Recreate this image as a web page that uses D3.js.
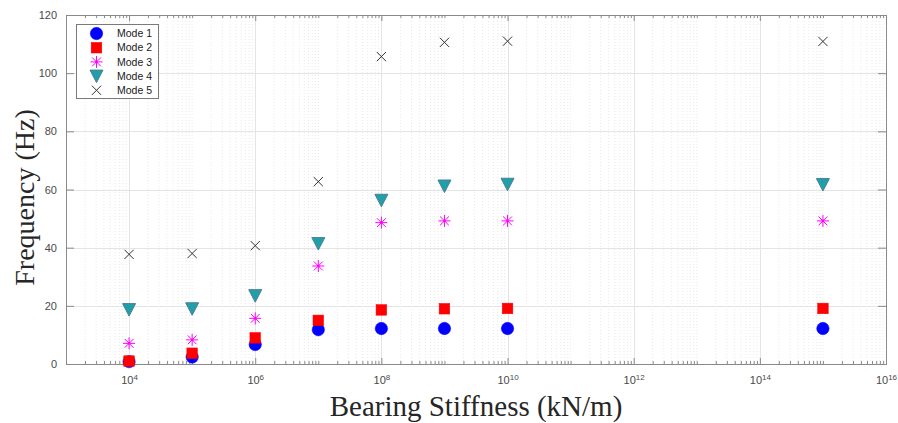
<!DOCTYPE html>
<html>
<head>
<meta charset="utf-8">
<script src="https://cdn.jsdelivr.net/npm/d3@7/dist/d3.min.js"></script>
<style>
  html, body { margin: 0; padding: 0; background: #fff; }
  svg { display: block; }
</style>
</head>
<body>
<svg id="chart" width="898" height="423"></svg>
<script>
// Natural frequencies of the first five modes vs. bearing stiffness
const stiffness = [1e4, 1e5, 1e6, 1e7, 1e8, 1e9, 1e10, 1e15];
const mode1 = [0.8, 2.4, 6.7, 11.8, 12.2, 12.2, 12.2, 12.2];
const mode2 = [1.0, 3.7, 9.0, 15.0, 18.6, 19.0, 19.1, 19.1];
const mode3 = [7.1, 8.3, 15.7, 33.7, 48.6, 49.2, 49.2, 49.2];
const mode4 = [18.7, 19.0, 23.5, 41.4, 56.3, 61.2, 61.8, 61.7];
const mode5 = [37.7, 38.0, 40.7, 62.7, 105.7, 110.6, 111.0, 110.9];
const seriesNames = ["Mode 1", "Mode 2", "Mode 3", "Mode 4", "Mode 5"];
const yTicks = [0, 20, 40, 60, 80, 100, 120];
const xLabelExponents = [4, 6, 8, 10, 12, 14, 16];

const svg = d3.select("#chart");
const L = 66, R = 886, T = 15, B = 364;

const x = d3.scaleLog().domain([1e3, 1e16]).range([L, R]);
const y = d3.scaleLinear().domain([0, 120]).range([B, T]);

// labelled decades and the sub-decade positions between them
const majorX = xLabelExponents.map(e => Math.pow(10, e));
const minorX = [];
for (let e = 3; e < 16; e++) {
  for (let k = 1; k <= 9; k++) {
    const v = k * Math.pow(10, e);
    if (k === 1 && e % 2 === 0) continue;
    if (v > 1e3) minorX.push(v);
  }
}

const g = svg.append("g");

// minor vertical grid (dotted)
g.append("g").selectAll("line").data(minorX).join("line")
  .attr("x1", d => x(d)).attr("x2", d => x(d))
  .attr("y1", T).attr("y2", B)
  .attr("stroke", "#e9e9e9").attr("stroke-width", 1)
  .attr("stroke-dasharray", "1,2");

// major grid
g.append("g").selectAll("line").data(majorX.filter(v => v < 1e16)).join("line")
  .attr("x1", d => Math.round(x(d)) + 0.5).attr("x2", d => Math.round(x(d)) + 0.5)
  .attr("y1", T).attr("y2", B)
  .attr("stroke", "#e4e4e4").attr("stroke-width", 1);
g.append("g").selectAll("line").data(yTicks.filter(v => v > 0 && v < 120)).join("line")
  .attr("x1", L).attr("x2", R)
  .attr("y1", d => Math.round(y(d)) + 0.5).attr("y2", d => Math.round(y(d)) + 0.5)
  .attr("stroke", "#e4e4e4").attr("stroke-width", 1);

// axes
const axisColor = "#8a8a8a";
const labelColor = "#4a4a4a";

function styleAxis(sel) {
  sel.select(".domain").remove();
  sel.selectAll(".tick line").attr("stroke", axisColor);
  sel.selectAll("text").attr("fill", labelColor)
    .style("font-family", "'Liberation Sans', Arial, sans-serif")
    .style("font-size", "11px");
}

// bottom: major labelled ticks
const xAxis = svg.append("g").attr("transform", `translate(0,${B})`)
  .call(d3.axisBottom(x).tickValues(majorX).tickSize(-6).tickPadding(12).tickFormat(() => ""))
  .call(styleAxis);
xAxis.selectAll(".tick text").each(function(d) {
  const t = d3.select(this);
  t.text(null);
  t.append("tspan").text("10");
  t.append("tspan").attr("dy", "-0.5em").style("font-size", "8px").text(Math.round(Math.log10(d)));
});
svg.append("g").attr("transform", `translate(0,${B})`)
  .call(d3.axisBottom(x).tickValues(minorX).tickSize(-3).tickFormat(() => ""))
  .call(styleAxis);
// top ticks
svg.append("g").attr("transform", `translate(0,${T})`)
  .call(d3.axisTop(x).tickValues(majorX).tickSize(-6).tickFormat(() => ""))
  .call(styleAxis);
svg.append("g").attr("transform", `translate(0,${T})`)
  .call(d3.axisTop(x).tickValues(minorX).tickSize(-3).tickFormat(() => ""))
  .call(styleAxis);
// left / right
svg.append("g").attr("transform", `translate(${L},0)`)
  .call(d3.axisLeft(y).tickValues(yTicks).tickSize(-8).tickPadding(9))
  .call(styleAxis);
svg.append("g").attr("transform", `translate(${R},0)`)
  .call(d3.axisRight(y).tickValues(yTicks).tickSize(-8).tickFormat(() => ""))
  .call(styleAxis);

// box
svg.append("rect").attr("x", L + 0.5).attr("y", T + 0.5)
  .attr("width", R - L).attr("height", B - T)
  .attr("fill", "none").attr("stroke", axisColor).attr("stroke-width", 1);

// marker drawing helpers
const markers = {
  circle: (sel, cx, cy) => sel.append("circle").attr("cx", cx).attr("cy", cy).attr("r", 6.2)
    .attr("fill", "#0000ff").attr("stroke", "#0000ff").attr("stroke-width", 0.5),
  square: (sel, cx, cy) => sel.append("rect").attr("x", cx - 5.3).attr("y", cy - 5.3)
    .attr("width", 10.6).attr("height", 10.6).attr("fill", "#ff0000").attr("stroke", "#ff0000").attr("stroke-width", 0.5),
  star: (sel, cx, cy) => {
    const s = sel.append("g").attr("transform", `translate(${cx},${cy})`)
      .attr("stroke", "#ff00ff").attr("stroke-width", 1);
    const r = 6, d = 4.4;
    s.append("line").attr("x1", -r).attr("x2", r).attr("y1", 0).attr("y2", 0);
    s.append("line").attr("x1", 0).attr("x2", 0).attr("y1", -r).attr("y2", r);
    s.append("line").attr("x1", -d).attr("x2", d).attr("y1", -d).attr("y2", d);
    s.append("line").attr("x1", -d).attr("x2", d).attr("y1", d).attr("y2", -d);
    s.append("circle").attr("r", 1.3).attr("fill", "#ff00ff").attr("stroke", "none");
  },
  tri: (sel, cx, cy) => sel.append("path")
    .attr("d", `M${cx - 6.5},${cy - 6}L${cx + 6.5},${cy - 6}L${cx},${cy + 6.5}Z`)
    .attr("fill", "#1fa0a8").attr("stroke", "#4d7d98").attr("stroke-width", 1),
  cross: (sel, cx, cy) => {
    const s = sel.append("g").attr("transform", `translate(${cx},${cy})`)
      .attr("stroke", "#333").attr("stroke-width", 1);
    const r = 4.6;
    s.append("line").attr("x1", -r).attr("x2", r).attr("y1", -r).attr("y2", r);
    s.append("line").attr("x1", -r).attr("x2", r).attr("y1", r).attr("y2", -r);
  }
};

const series = [
  { name: seriesNames[0], values: mode1, marker: "circle" },
  { name: seriesNames[1], values: mode2, marker: "square" },
  { name: seriesNames[2], values: mode3, marker: "star" },
  { name: seriesNames[3], values: mode4, marker: "tri" },
  { name: seriesNames[4], values: mode5, marker: "cross" }
];

const pts = svg.append("g");
series.forEach(s => {
  const layer = pts.append("g");
  s.values.forEach((v, i) => markers[s.marker](layer, x(stiffness[i]), y(v)));
});

// legend
const lg = svg.append("g");
lg.append("rect").attr("x", 76.5).attr("y", 24.5).attr("width", 82).attr("height", 74)
  .attr("fill", "#fff").attr("stroke", "#7a7a7a").attr("stroke-width", 1);
series.forEach((s, i) => {
  const cy = 33.5 + i * 14.2;
  markers[s.marker](lg, 96.5, cy);
  lg.append("text").attr("x", 117).attr("y", cy + 3.7)
    .style("font-family", "'Liberation Sans', Arial, sans-serif")
    .style("font-size", "10.5px").attr("fill", "#1a1a1a").text(s.name);
});

// axis titles
svg.append("text")
  .attr("x", (L + R) / 2).attr("y", 416)
  .attr("text-anchor", "middle")
  .style("font-family", "'Liberation Serif', 'Times New Roman', serif")
  .style("font-size", "29px").attr("fill", "#262626")
  .text("Bearing Stiffness (kN/m)");
svg.append("text")
  .attr("transform", `translate(34,${(T + B) / 2 + 8}) rotate(-90)`)
  .attr("text-anchor", "middle")
  .style("font-family", "'Liberation Serif', 'Times New Roman', serif")
  .style("font-size", "28px").attr("fill", "#262626")
  .text("Frequency (Hz)");
</script>
</body>
</html>
